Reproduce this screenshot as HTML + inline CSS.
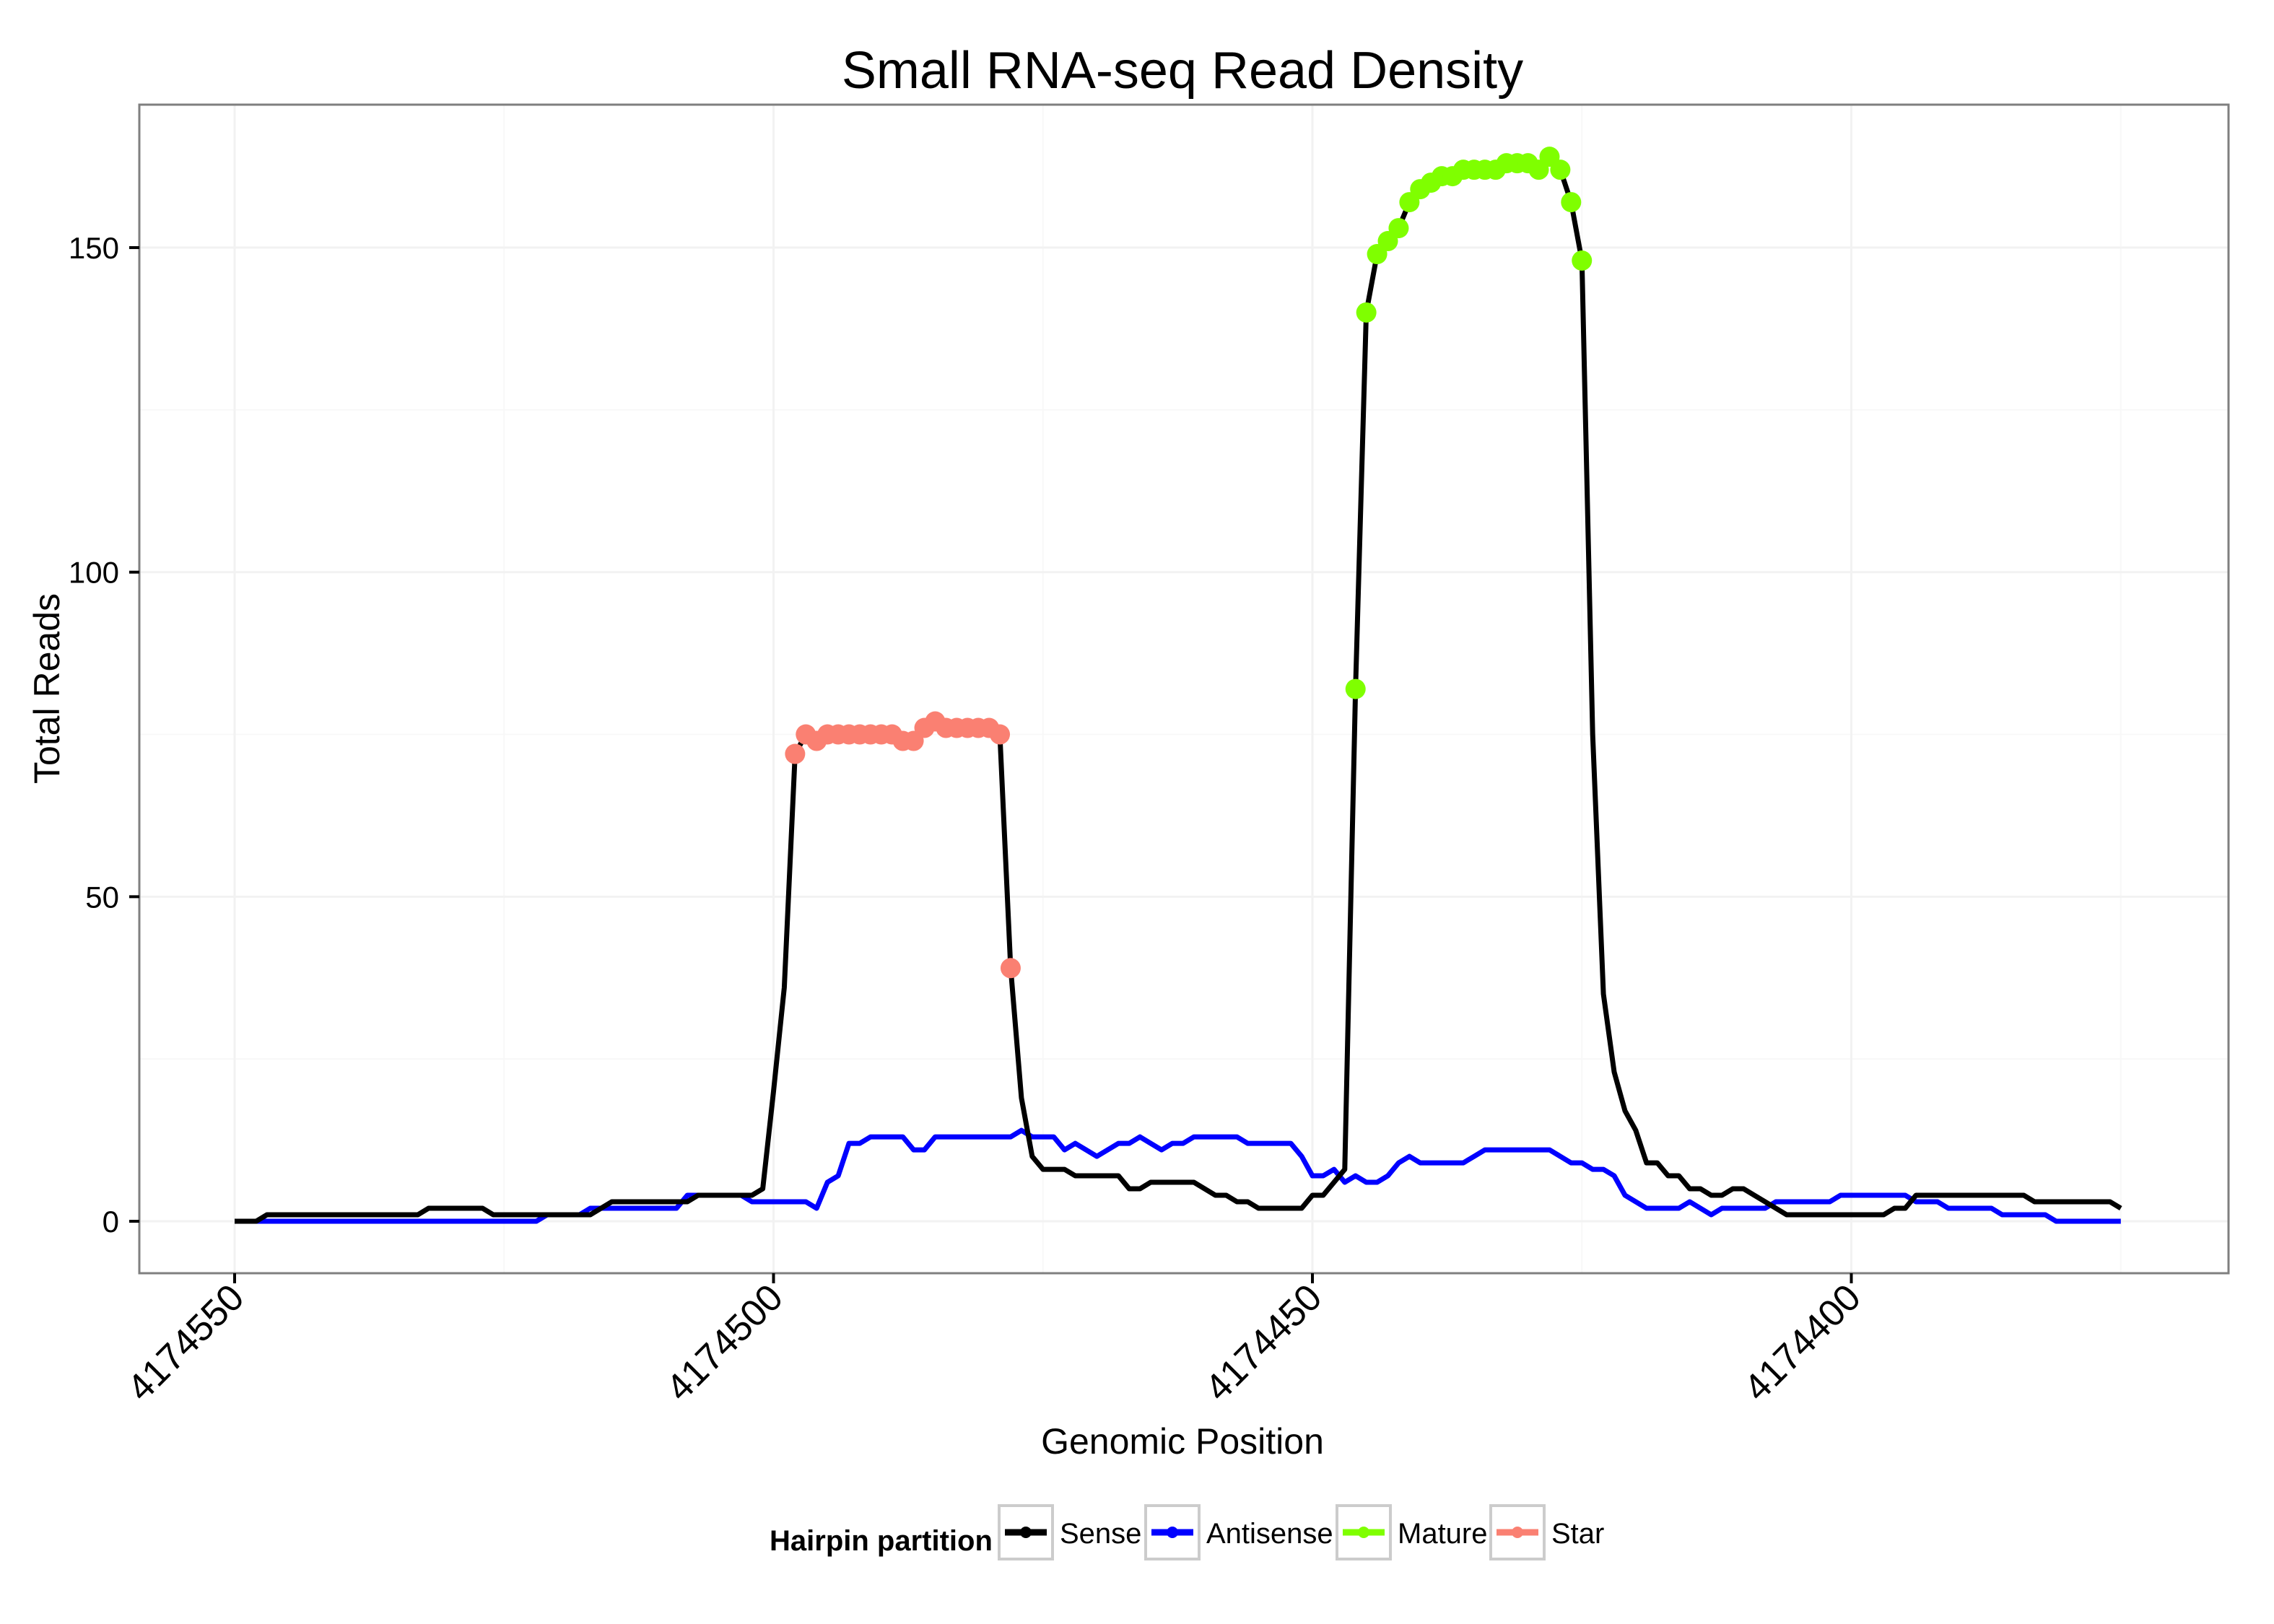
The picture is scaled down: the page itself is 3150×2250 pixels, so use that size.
<!DOCTYPE html>
<html><head><meta charset="utf-8">
<style>
html,body{margin:0;padding:0;background:#fff;}
svg{display:block;}
text{font-family:"Liberation Sans Narrow","Liberation Sans",sans-serif;fill:#000;}
</style></head>
<body>
<svg id="chart" width="3150" height="2250" viewBox="0 0 3150 2250" xmlns="http://www.w3.org/2000/svg">
<rect x="0" y="0" width="3150" height="2250" fill="#fff"/>
<g id="grid"></g>
<g id="series"></g>
<rect x="193" y="145" width="2894" height="1619" fill="none" stroke="#7f7f7f" stroke-width="3"/>
<g id="axes"></g>
<text x="1638" y="122" font-size="72" text-anchor="middle">Small RNA-seq Read Density</text>
<text x="1638" y="2014" font-size="50" text-anchor="middle">Genomic Position</text>
<text x="0" y="0" font-size="50" text-anchor="middle" transform="translate(82,954) rotate(-90)">Total Reads</text>
<g id="legend">
  <text x="1066" y="2148" font-size="40" font-weight="bold">Hairpin partition</text>
</g>
</svg>
<script>
const startPos = 4174550;
const sense = [0,0,0,1,1,1,1,1,1,1,1,1,1,1,1,1,1,1,2,2,2,2,2,2,1,1,1,1,1,1,1,1,1,1,2,3,3,3,3,3,3,3,3,4,4,4,4,4,4,5,20,36,
72,75,74,75,75,75,75,75,75,75,74,74,76,77,76,76,76,76,76,75,39,
19,10,8,8,8,7,7,7,7,7,5,5,6,6,6,6,6,5,4,4,3,3,2,2,2,2,2,4,4,6,8,
82,140,149,151,153,157,159,160,161,161,162,162,162,162,163,163,163,162,164,162,157,148,
75,35,23,17,14,9,9,7,7,5,5,4,4,5,5,4,3,2,1,1,1,1,1,1,1,1,1,1,2,2,4,4,4,4,4,4,4,4,4,4,4,3,3,3,3,3,3,3,3,2];
const antisense = [0,0,0,0,0,0,0,0,0,0,0,0,0,0,0,0,0,0,0,0,0,0,0,0,0,0,0,0,0,1,1,1,1,2,2,2,2,2,2,2,2,2,4,4,4,4,4,4,3,3,3,3,3,3,
2,6,7,12,12,13,13,13,13,11,11,13,13,13,13,13,13,13,13,14,13,13,13,11,12,11,10,11,12,12,13,12,11,12,12,13,13,13,13,13,12,12,12,12,12,10,7,7,8,6,7,6,6,7,9,10,9,9,9,9,9,10,11,11,11,11,11,11,11,10,9,9,8,8,7,4,3,2,2,2,2,3,2,1,2,2,2,2,2,3,3,3,3,3,3,4,4,4,4,4,4,4,3,3,3,2,2,2,2,2,1,1,1,1,1,0,0,0,0,0,0,0];
const starRange = [52,72];
const matureRange = [104,125];
const xTicks = [4174550,4174500,4174450,4174400];
const xMinor = [4174525,4174475,4174425,4174375];
const yTicks = [0,50,100,150];
const yMinor = [25,75,125];

const NS='http://www.w3.org/2000/svg';
function X(pos){return 325 + (startPos - pos)*14.93;}
function Y(v){return 1692 - v*8.993;}
function mk(tag, attrs, parent){const e=document.createElementNS(NS,tag);for(const k in attrs)e.setAttribute(k,attrs[k]);parent.appendChild(e);return e;}
const grid=document.getElementById('grid'), ser=document.getElementById('series'), axes=document.getElementById('axes'), leg=document.getElementById('legend');
const PL=193, PR=3087, PT=145, PB=1764;

xMinor.forEach(p=>{const l=mk('line',{x1:X(p),x2:X(p),y1:PT,y2:PB,stroke:'#f8f8f8','stroke-width':2},grid);

});
yMinor.forEach(v=>{const l=mk('line',{x1:PL,x2:PR,y1:Y(v),y2:Y(v),stroke:'#f8f8f8','stroke-width':2},grid);

});
xTicks.forEach(p=>{const l=mk('line',{x1:X(p),x2:X(p),y1:PT,y2:PB,stroke:'#f2f2f2','stroke-width':3},grid);


const t=mk('line',{x1:X(p),x2:X(p),y1:PB,y2:PB+14,stroke:'#000','stroke-width':4},axes);


const tx=mk('text',{x:0,y:0,'font-size':52,'text-anchor':'end',transform:'translate('+(X(p)+16)+','+(PB+37)+') rotate(-45)'},axes);
tx.textContent=String(p);

});
yTicks.forEach(v=>{const l=mk('line',{x1:PL,x2:PR,y1:Y(v),y2:Y(v),stroke:'#f2f2f2','stroke-width':3},grid);


const t=mk('line',{x1:PL-14,x2:PL,y1:Y(v),y2:Y(v),stroke:'#000','stroke-width':4},axes);


const tx=mk('text',{x:165,y:Y(v)+15,'font-size':42,'text-anchor':'end'},axes);
tx.textContent=String(v);

});

function pts(arr){return arr.map((v,i)=>X(startPos-i).toFixed(1)+','+Y(v).toFixed(1)).join(' ');}
const la=mk('polyline',{points:pts(antisense),fill:'none',stroke:'#0000ff','stroke-width':7,'stroke-linejoin':'round'},ser);


const ls=mk('polyline',{points:pts(sense),fill:'none',stroke:'#000','stroke-width':7,'stroke-linejoin':'round'},ser);


for(let i=starRange[0];i<=starRange[1];i++){const c=mk('circle',{cx:X(startPos-i),cy:Y(sense[i]),r:14,fill:'#fa8072'},ser);

}
for(let i=matureRange[0];i<=matureRange[1];i++){const c=mk('circle',{cx:X(startPos-i),cy:Y(sense[i]),r:14,fill:'#7fff00'},ser);

}

const legendNames=['Sense','Antisense','Mature','Star'];
const legendColors=['#000','#0000ff','#7fff00','#fa8072'];
const boxX=[1384,1587,1852,2065];
legendNames.forEach((n,k)=>{const g=mk('g',{},leg);


mk('rect',{x:boxX[k],y:2086,width:74,height:74,fill:'#fff',stroke:'#cccccc','stroke-width':4},g);
mk('line',{x1:boxX[k]+8,x2:boxX[k]+66,y1:2123,y2:2123,stroke:legendColors[k],'stroke-width':9},g);
mk('circle',{cx:boxX[k]+37,cy:2123,r:8,fill:legendColors[k]},g);
const t=mk('text',{x:boxX[k]+84,y:2138,'font-size':40},g);t.textContent=n;});
</script>
</body></html>
